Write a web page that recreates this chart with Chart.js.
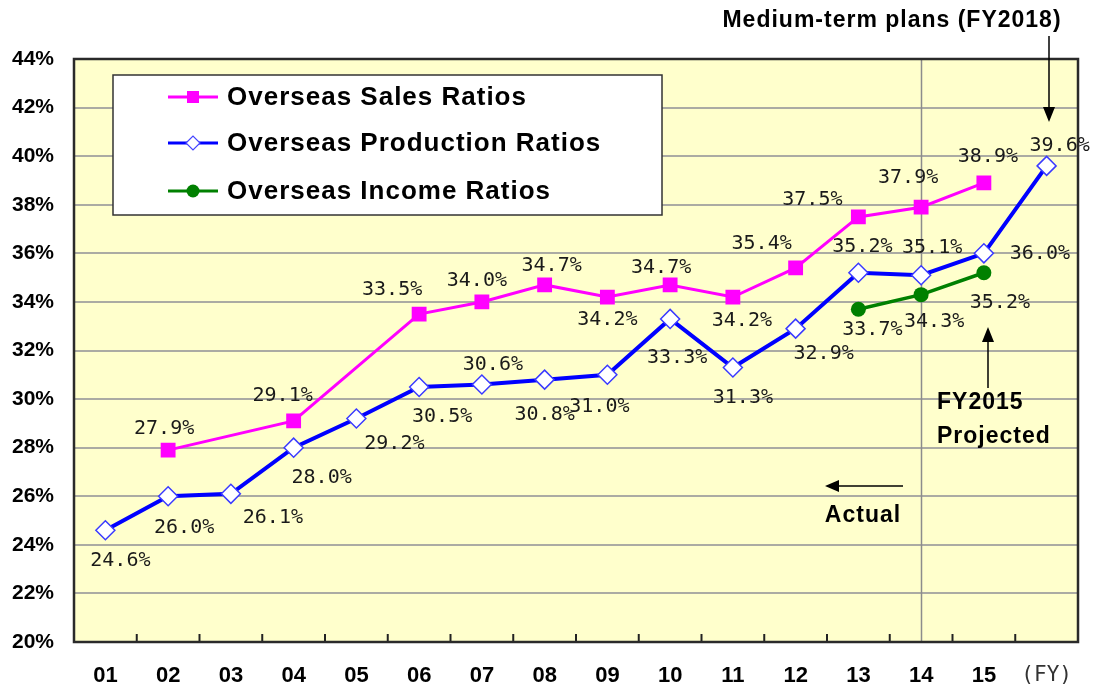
<!DOCTYPE html>
<html><head><meta charset="utf-8">
<script src="https://cdn.jsdelivr.net/npm/chart.js@4/dist/chart.umd.min.js"></script>
<style>html,body{margin:0;padding:0;background:#fff;}#wrap{width:1094px;height:690px;}</style>
</head><body><div id="wrap"><canvas id="c" width="1094" height="690"></canvas></div>
<script>
// ---- data ----
const categories = ['01','02','03','04','05','06','07','08','09','10','11','12','13','14','15','(FY)'];
const salesRatios      = [null,27.9,null,29.1,null,33.5,34.0,34.7,34.2,34.7,34.2,35.4,37.5,37.9,38.9,null];
const productionRatios = [24.6,26.0,26.1,28.0,29.2,30.5,30.6,30.8,31.0,33.3,31.3,32.9,35.2,35.1,36.0,39.6];
const incomeRatios     = [null,null,null,null,null,null,null,null,null,null,null,null,33.7,34.3,35.2,null];
const seriesNames = ['Overseas Sales Ratios','Overseas Production Ratios','Overseas Income Ratios'];
const yMin = 20, yMax = 44, yStep = 2;

// ---- label placement (style) ----
const salesLabelOffsets = [null,[-4,-21],null,[-11,-25],null,[-27,-24],[-5,-21],[7,-19],[0,23],[-9,-17],[9,24],[-34,-24],[-46,-17],[-13,-29],[4,-26],null];
const prodLabelOffsets  = [[15,31],[16,32],[42,24],[28,30],[38,25],[23,30],[11,-20],[0,35],[-8,32],[7,39],[10,30],[28,25],[4,-26],[11,-27],[56,0],[13,-20]];
const incomeLabelOffsets= [null,null,null,null,null,null,null,null,null,null,null,null,[14,21],[13,27],[16,30],null];

const SANS = '"Liberation Sans", Arial, sans-serif';
const MONO = '"DejaVu Sans Mono", monospace';

function arrow(ctx, x1, y1, x2, y2, head, half) {
  const ang = Math.atan2(y2 - y1, x2 - x1);
  ctx.beginPath();
  ctx.moveTo(x1, y1);
  ctx.lineTo(x2 - Math.cos(ang) * head * 0.8, y2 - Math.sin(ang) * head * 0.8);
  ctx.stroke();
  ctx.beginPath();
  ctx.moveTo(x2, y2);
  ctx.lineTo(x2 - Math.cos(ang) * head - Math.sin(ang) * half, y2 - Math.sin(ang) * head + Math.cos(ang) * half);
  ctx.lineTo(x2 - Math.cos(ang) * head + Math.sin(ang) * half, y2 - Math.sin(ang) * head - Math.cos(ang) * half);
  ctx.closePath();
  ctx.fill();
}

const decorPlugin = {
  id: 'decor',
  beforeDraw(chart) {
    const {ctx, chartArea: a} = chart;
    ctx.save();
    ctx.fillStyle = '#FFFFCC';
    ctx.fillRect(a.left, a.top, a.right - a.left, a.bottom - a.top);
    ctx.restore();
  },
  beforeDatasetsDraw(chart) {
    const {ctx, chartArea: a, scales} = chart;
    const x = scales.x;
    ctx.save();
    const xv = Math.round(x.getPixelForValue(13)) + 0.5;
    ctx.strokeStyle = '#8c8c8c';
    ctx.lineWidth = 1.5;
    ctx.beginPath(); ctx.moveTo(xv, a.top); ctx.lineTo(xv, a.bottom); ctx.stroke();
    ctx.strokeStyle = '#222';
    ctx.lineWidth = 2;
    for (let i = 0; i < categories.length - 1; i++) {
      const xb = (x.getPixelForValue(i) + x.getPixelForValue(i + 1)) / 2;
      ctx.beginPath(); ctx.moveTo(xb, a.bottom); ctx.lineTo(xb, a.bottom - 8); ctx.stroke();
    }
    ctx.strokeStyle = '#2a2a2a';
    ctx.lineWidth = 2.5;
    ctx.strokeRect(a.left, a.top, a.right - a.left, a.bottom - a.top);
    ctx.restore();
  },
  afterDraw(chart) {
    const {ctx, scales} = chart;
    const x = scales.x, y = scales.y;
    ctx.save();
    ctx.font = '20px ' + MONO;
    ctx.fillStyle = '#1a1a1a';
    ctx.textAlign = 'center';
    ctx.textBaseline = 'middle';
    const groups = [[salesRatios, salesLabelOffsets],[productionRatios, prodLabelOffsets],[incomeRatios, incomeLabelOffsets]];
    groups.forEach(([vals, offs]) => {
      vals.forEach((v, i) => {
        if (v == null || !offs[i]) return;
        const px = x.getPixelForValue(i), py = y.getPixelForValue(v);
        ctx.fillText(v.toFixed(1) + '%', px + offs[i][0], py + offs[i][1]);
      });
    });

    const lx = 113, ly = 75, lw = 549, lh = 140;
    ctx.fillStyle = '#ffffff';
    ctx.fillRect(lx, ly, lw, lh);
    ctx.strokeStyle = '#333';
    ctx.lineWidth = 1.5;
    ctx.strokeRect(lx, ly, lw, lh);
    const rows = [97, 143, 191];
    chart.data.datasets.forEach((ds, k) => {
      const ry = rows[k];
      ctx.strokeStyle = ds.borderColor;
      ctx.lineWidth = 3;
      ctx.beginPath(); ctx.moveTo(168, ry); ctx.lineTo(218, ry); ctx.stroke();
      const mx = 193;
      if (k === 0) {
        ctx.fillStyle = ds.borderColor;
        ctx.fillRect(mx - 6, ry - 6, 12, 12);
      } else if (k === 1) {
        ctx.fillStyle = '#fff';
        ctx.strokeStyle = '#4444ff';
        ctx.lineWidth = 1.2;
        ctx.beginPath();
        ctx.moveTo(mx - 7, ry); ctx.lineTo(mx, ry - 7); ctx.lineTo(mx + 7, ry); ctx.lineTo(mx, ry + 7); ctx.closePath();
        ctx.fill(); ctx.stroke();
      } else {
        ctx.fillStyle = ds.borderColor;
        ctx.beginPath(); ctx.arc(mx, ry, 6.5, 0, Math.PI * 2); ctx.fill();
      }
      ctx.fillStyle = '#000';
      ctx.font = 'bold 26px ' + SANS;
      ctx.letterSpacing = '1px';
      ctx.textAlign = 'left';
      ctx.textBaseline = 'middle';
      ctx.fillText(ds.label, 227, ry + 1);
      ctx.letterSpacing = '0px';
    });

    ctx.fillStyle = '#000';
    ctx.strokeStyle = '#000';
    ctx.lineWidth = 1.5;
    ctx.font = 'bold 23px ' + SANS;
    ctx.letterSpacing = '1px';
    ctx.textAlign = 'center';
    ctx.textBaseline = 'middle';
    ctx.fillText('Medium-term plans (FY2018)', 892, 21);
    ctx.textAlign = 'left';
    ctx.fillText('FY2015', 937, 403);
    ctx.fillText('Projected', 937, 437);
    ctx.textAlign = 'center';
    ctx.fillText('Actual', 863, 516);
    ctx.letterSpacing = '0px';
    arrow(ctx, 1049, 36, 1049, 122, 15, 6);
    arrow(ctx, 988, 388, 988, 327, 15, 6);
    arrow(ctx, 903, 486, 825, 486, 14, 6);
    ctx.restore();
  }
};

new Chart(document.getElementById('c'), {
  type: 'line',
  data: {
    labels: categories,
    datasets: [
      {
        label: seriesNames[0], data: salesRatios, spanGaps: true,
        borderColor: '#FF00FF', backgroundColor: '#FF00FF', borderWidth: 3,
        pointStyle: 'rect', pointRadius: 10.5, pointBorderWidth: 0,
        pointBackgroundColor: '#FF00FF', pointBorderColor: '#FF00FF', order: 2
      },
      {
        label: seriesNames[1], data: productionRatios,
        borderColor: '#0000FF', backgroundColor: '#ffffff', borderWidth: 4,
        pointStyle: 'rectRot', pointRadius: 9.5, pointBorderWidth: 1.5,
        pointBackgroundColor: '#ffffff', pointBorderColor: '#3a3aff', order: 1
      },
      {
        label: seriesNames[2], data: incomeRatios,
        borderColor: '#008000', backgroundColor: '#008000', borderWidth: 3.5,
        pointStyle: 'circle', pointRadius: 7.5, pointBorderWidth: 0,
        pointBackgroundColor: '#008000', pointBorderColor: '#008000', order: 0
      }
    ]
  },
  options: {
    responsive: false,
    animation: false,
    devicePixelRatio: 1,
    layout: { padding: { top: 59, right: 16, left: 0, bottom: 0 } },
    plugins: { legend: { display: false }, tooltip: { enabled: false } },
    elements: { line: { tension: 0 } },
    scales: {
      x: {
        type: 'category',
        offset: true,
        grid: { display: false, drawTicks: false },
        border: { display: false },
        ticks: {
          padding: 21,
          autoSkip: false,
          maxRotation: 0,
          color: (c) => c.index === categories.length - 1 ? '#333' : '#000',
          font: (c) => c.index === categories.length - 1
            ? { family: MONO, size: 21, weight: 'normal' }
            : { family: SANS, size: 22, weight: 'bold' }
        },
        afterFit: (s) => { s.height = 48; }
      },
      y: {
        min: yMin, max: yMax,
        grid: { color: '#ABABA3', lineWidth: 2, drawTicks: false },
        border: { display: false },
        ticks: {
          stepSize: yStep,
          padding: 20,
          color: '#000',
          font: { family: SANS, size: 21, weight: 'bold' },
          callback: (v) => v + '%'
        },
        afterFit: (s) => { s.width = 74; }
      }
    }
  },
  plugins: [decorPlugin]
});
</script>
</body></html>
